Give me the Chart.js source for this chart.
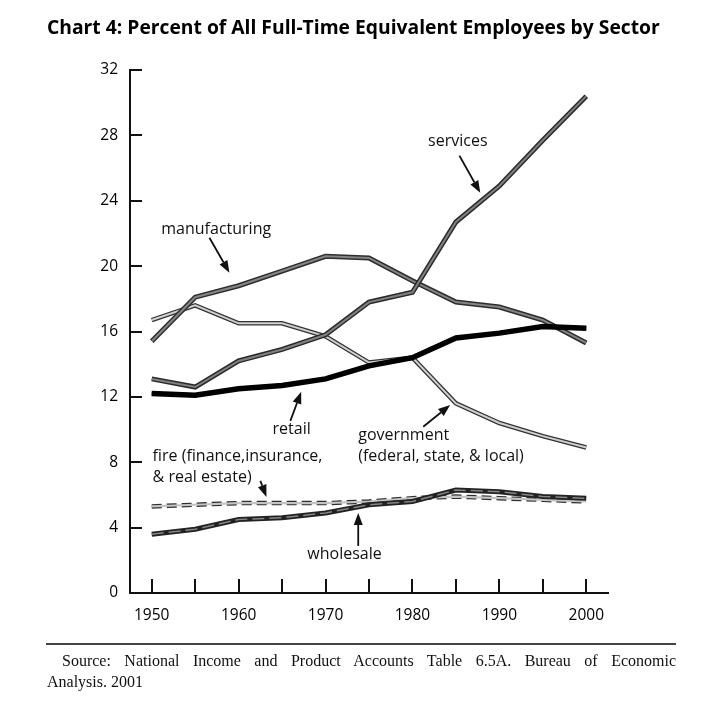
<!DOCTYPE html>
<html><head><meta charset="utf-8">
<script src="https://cdn.jsdelivr.net/npm/chart.js@4"></script>
<style>
html,body{margin:0;padding:0;background:#fff;}
body{width:725px;height:702px;position:relative;overflow:hidden;}
canvas{position:absolute;left:0;top:0;}
#title{position:absolute;left:47px;top:13px;font:bold 19.3px "Open Sans";color:#000;white-space:nowrap;}
#rule{position:absolute;left:46px;top:643px;width:630px;height:2px;background:#444;}
#src1{position:absolute;left:47px;top:652px;width:629px;font:16px "Liberation Serif";color:#111;text-align:justify;text-align-last:justify;text-indent:15px;}
#src2{position:absolute;left:47px;top:673px;font:16px "Liberation Serif";color:#111;white-space:nowrap;}
</style></head>
<body>
<canvas id="c" width="725" height="702"></canvas>
<div id="title">Chart 4: Percent of All Full-Time Equivalent Employees by Sector</div>
<div id="rule"></div>
<div id="src1">Source: National Income and Product Accounts Table 6.5A. Bureau of Economic</div>
<div id="src2">Analysis. 2001</div>
<script>
const years = [1950,1955,1960,1965,1970,1975,1980,1985,1990,1995,2000];
const services      = [13.1,12.6,14.2,14.9,15.8,17.8,18.4,22.7,24.9,27.7,30.4];
const manufacturing = [15.4,18.1,18.8,19.7,20.6,20.5,19.1,17.8,17.5,16.7,15.3];
const government    = [16.7,17.6,16.5,16.5,15.7,14.1,14.4,11.6,10.4,9.6,8.9];
const retail        = [12.2,12.1,12.5,12.7,13.1,13.9,14.4,15.6,15.9,16.3,16.2];
const fire          = [5.3,5.4,5.5,5.5,5.5,5.6,5.8,5.9,5.8,5.7,5.6];
const wholesale     = [3.6,3.9,4.5,4.6,4.9,5.4,5.6,6.3,6.2,5.9,5.8];
const yTickValues = [0,4,8,12,16,20,24,28,32];
const xTickLabels = ['1950','1960','1970','1980','1990','2000'];

const annotations = [
  {lines:['manufacturing'], x:1951.1, y:22.23, from:[1956.64,21.74], to:[1958.94,19.6]},
  {lines:['services'], x:1981.8, y:27.62, from:[1985.4,26.76], to:[1987.8,24.49]},
  {lines:['retail'], x:1963.9, y:9.98, from:[1965.95,10.53], to:[1967.2,12.31]},
  {lines:['government','(federal, state, & local)'], x:1973.76, y:9.61, from:[1981.24,10.17], to:[1984.34,11.51]},
  {lines:['fire (finance,insurance,','& real estate)'], x:1950.1, y:8.33, from:[1962.5,6.86], to:[1963.2,5.88]},
  {lines:['wholesale'], x:1967.9, y:2.33, from:[1973.76,2.88], to:[1973.76,4.9]}
];

const pts = arr => years.map((y,i)=>({x:y,y:arr[i]}));
function cased(label, arr, outer, inner, order) {
  return [
    {label:label+' inner', data:pts(arr), borderColor:inner.color, borderWidth:inner.width, borderDash:inner.dash||[], order:order, pointRadius:0, tension:0, borderJoinStyle:'miter', fill:false},
    {label:label, data:pts(arr), borderColor:outer.color, borderWidth:outer.width, borderDash:outer.dash||[], order:order+1, pointRadius:0, tension:0, borderJoinStyle:'miter', fill:false}
  ];
}
const datasets = [
  ...cased('retail', retail, {color:'#000',width:5.5}, {color:'#000',width:4}, 0),
  ...cased('services', services, {color:'#2a2a2a',width:5}, {color:'#808080',width:2}, 2),
  ...cased('manufacturing', manufacturing, {color:'#2e2e2e',width:5}, {color:'#858585',width:2}, 4),
  ...cased('government', government, {color:'#333',width:4.5}, {color:'#d0d0d0',width:2}, 6),
  ...cased('wholesale', wholesale, {color:'#222',width:5}, {color:'#858585',width:1.5,dash:[12,5]}, 8),
  ...cased('fire', fire, {color:'#2e2e2e',width:4.5,dash:[10,5]}, {color:'#c4c4c4',width:2.2}, 10)
];

const decor = {
  id:'decor',
  afterDraw(chart){
    const ctx = chart.ctx, xs = chart.scales.x, ys = chart.scales.y, a = chart.chartArea;
    ctx.save();
    ctx.strokeStyle = '#111'; ctx.lineWidth = 2;
    yTickValues.forEach(v=>{ if(v===0) return; const p = Math.round(ys.getPixelForValue(v));
      ctx.beginPath(); ctx.moveTo(a.left, p); ctx.lineTo(a.left+12, p); ctx.stroke(); });
    years.forEach(v=>{ const p = Math.round(xs.getPixelForValue(v));
      ctx.beginPath(); ctx.moveTo(p, a.bottom); ctx.lineTo(p, a.bottom-14); ctx.stroke(); });
    ctx.font = '16px "Open Sans"'; ctx.fillStyle = '#111'; ctx.textBaseline = 'middle'; ctx.textAlign = 'left';
    annotations.forEach(an=>{
      const px = xs.getPixelForValue(an.x), py = ys.getPixelForValue(an.y);
      an.lines.forEach((t,i)=> ctx.fillText(t, px, py + i*20.5));
      const x1 = xs.getPixelForValue(an.from[0]), y1 = ys.getPixelForValue(an.from[1]);
      const x2 = xs.getPixelForValue(an.to[0]), y2 = ys.getPixelForValue(an.to[1]);
      const ang = Math.atan2(y2-y1, x2-x1), hl = 12, hw = 4.5;
      const bx = x2 - hl*Math.cos(ang), by = y2 - hl*Math.sin(ang);
      ctx.strokeStyle = '#111'; ctx.lineWidth = 1.8;
      ctx.beginPath(); ctx.moveTo(x1,y1); ctx.lineTo(bx,by); ctx.stroke();
      ctx.beginPath(); ctx.moveTo(x2,y2);
      ctx.lineTo(bx + hw*Math.sin(ang), by - hw*Math.cos(ang));
      ctx.lineTo(bx - hw*Math.sin(ang), by + hw*Math.cos(ang));
      ctx.closePath(); ctx.fill();
    });
    ctx.restore();
  }
};

new Chart(document.getElementById('c'), {
  type:'line',
  data:{datasets},
  options:{
    responsive:false, animation:false, devicePixelRatio:1,
    layout:{padding:{left:0, top:70, right:117, bottom:0}},
    plugins:{legend:{display:false}, tooltip:{enabled:false}, title:{display:false}},
    scales:{
      x:{type:'linear', min:1947.5, max:2002.5,
         afterBuildTicks: s=>{ s.ticks = years.map(v=>({value:v})); },
         afterFit: s=>{ s.height = 109; },
         grid:{display:false, drawTicks:false},
         border:{display:true, color:'#111', width:2},
         ticks:{autoSkip:false, maxRotation:0, padding:13, color:'#000', font:{family:'Open Sans', size:15.5},
                callback:v=> xTickLabels.includes(String(v)) ? String(v) : ''}},
      y:{min:0, max:32,
         afterBuildTicks: s=>{ s.ticks = yTickValues.map(v=>({value:v})); },
         afterFit: s=>{ s.width = 130; },
         grid:{display:false, drawTicks:false},
         border:{display:true, color:'#111', width:2},
         ticks:{padding:12, color:'#000', font:{family:'Open Sans', size:15.5}}}
    }
  },
  plugins:[decor]
});
</script>
</body></html>
